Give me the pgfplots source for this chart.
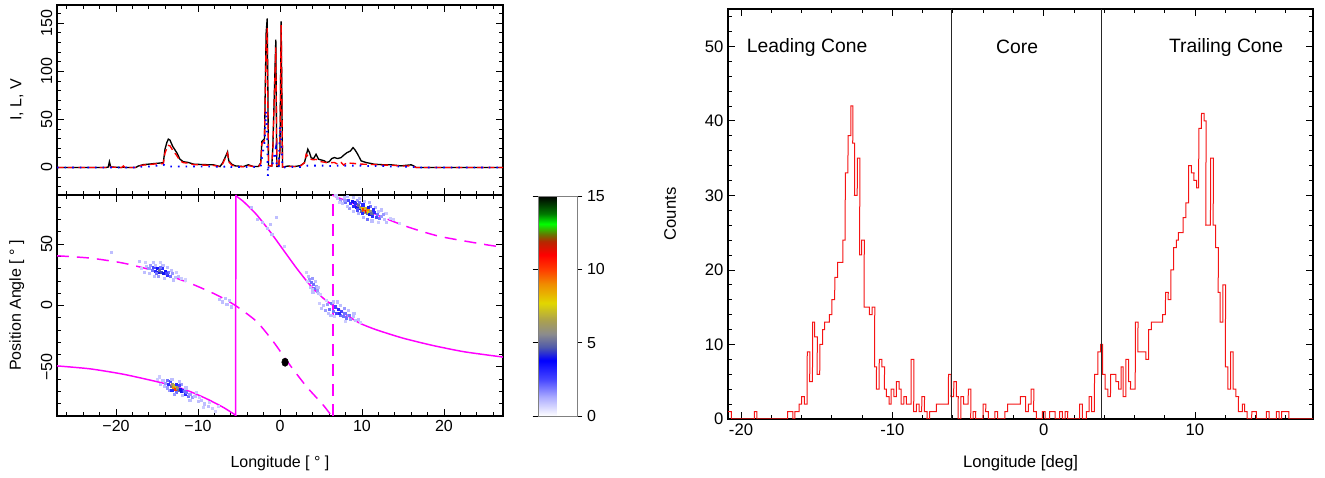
\documentclass[border=0pt]{standalone}
\usepackage{fontspec}
\setmainfont{Liberation Sans}
\usepackage{pgfplots}
\usepackage{pgfplotstable}
\pgfplotsset{compat=1.18}
\definecolor{mag}{RGB}{255,0,255}
\definecolor{hred}{RGB}{245,20,20}
\definecolor{pred}{RGB}{255,0,0}
\definecolor{vblue}{RGB}{0,0,255}

\pgfplotsset{
  colormap={pamap}{rgb255(0cm)=(255,255,255); rgb255(1.3cm)=(170,170,255); rgb255(2.5cm)=(70,70,255); rgb255(3.8cm)=(0,0,255); rgb255(4.7cm)=(80,90,170); rgb255(5.6cm)=(140,140,140); rgb255(6.5cm)=(170,160,80); rgb255(7.7cm)=(225,215,0); rgb255(9cm)=(240,140,0); rgb255(10cm)=(255,60,0); rgb255(11cm)=(255,0,0); rgb255(11.9cm)=(180,40,0); rgb255(12.4cm)=(100,120,0); rgb255(13.1cm)=(0,255,0); rgb255(13.8cm)=(0,120,0); rgb255(15cm)=(0,0,0)},
  leftstyle/.style={
    scale only axis, width=334.5pt, anchor=south west,
    xmin=-27.2, xmax=27.2,
    xtick={-20,-10,0,10,20},
    minor xtick={-26,-24,...,26},
    tick align=inside,
    major tick length=5pt, minor tick length=3pt,
    tick style={black, line width=0.6pt},
    axis line style={line width=0.8pt},
    font=\fontsize{12}{14}\selectfont,
    /pgf/number format/assume math mode=true,
  },
}

\pgfplotstableread{
x I L V
-27.2 0 0 0
-21.2 0 0 0
-20.95 0.5 0.3 0
-20.81 6 1.5 0
-20.65 0.5 0.3 0
-19.3 0 0 0
-19.1 0.5 1.7 0
-18.9 0 0 0
-17.6 0 0 0
-17.28 1.5 1.5 0.5
-16.67 3 2.5 1
-16.0 3.5 3 1
-15.45 4 3.5 1.5
-14.8 4.5 4 2
-14.23 5 4 3
-14.03 19 15 2
-13.8 26 20 1.5
-13.62 29.5 23 1
-13.42 28.5 22.5 1
-13.09 22 18 1
-12.6 15.5 12.5 1
-12.2 8.6 7 1
-11.79 6 5 1
-11.18 5.2 4.5 1
-10.57 3.5 3 1
-9.35 3 2.5 1
-8.13 2.8 2.2 1
-7.31 1 0.8 0.5
-6.99 5 4 0.5
-6.7 10.3 9 1
-6.4 16.2 15 2
-6.25 7 6 1
-5.89 3.4 2.5 0.5
-5.48 1.7 1.2 0.5
-4.47 1 0.8 0.5
-3.86 2.8 2 0.5
-3.25 1 1 0.5
-2.64 1 0.8 0.5
-2.35 5 4 1
-2.21 27 25 10
-1.89 30 28 26
-1.69 140 130 59
-1.56 155 145 30
-1.48 80 60 -9
-1.40 2 2 1
-1.0 1.5 1.5 1
-0.87 22 20 5
-0.51 133 125 20
-0.39 1 1 0
-0.15 1 1 0
0.0 20 18 43
0.14 152 148 30
0.31 0.5 0.5 0
1.0 1.5 1 0.5
1.8 1 1 0.5
2.5 2 1.5 0.5
2.98 5 5 1
3.19 12 13.8 1.5
3.39 19 12 2
3.6 15.5 11 2
3.8 10 8.5 2
4.1 9.3 8 2
4.4 13.8 8.5 2
4.7 8.6 7 2
5.01 7.9 6 2
5.42 6.9 5.5 2
5.62 5.2 5.2 1.5
6.0 6 5.5 1.5
6.31 9.3 5 1.5
6.64 10.3 5.2 1.5
7.04 9.3 3.4 2
7.45 10.3 5.2 2
7.77 12.8 2.5 2
8.18 15.5 5.2 2
8.59 17.2 4.5 2
8.91 20.7 4.5 2
9.15 18.3 4 2
9.48 13.8 4 2
9.89 6.9 3.5 2
10.5 5.2 3.4 1.5
11.51 3.4 3 1.5
12.73 2.8 2.5 1.5
13.54 2.8 2.5 1
14.76 1.7 1.5 1
16.0 2.8 1.7 0.5
16.3 1.7 1 0.5
16.6 0 0 0
27.2 0 0 0
}\profile

\pgfplotstableread{
x y c
-16.3 32 1
-16.0 30 1.5
-15.8 33 1.5
-15.6 29 2
-15.4 31 2.5
-15.2 28 3
-15.0 30 3.5
-14.9 27 4
-14.7 29 5
-14.5 27 4.5
-14.4 30 3
-14.2 26 4
-14.0 28 3.5
-13.8 25 3
-13.6 27 2
-13.4 24 2
-13.1 26 1.5
-12.8 23 1
-12.4 24 1
-15.5 35 1
-14.8 24 1.5
-14.3 33 1
-16.6 27 1
-13.0 21 1
-16.9 30 0.8
-16.4 35 0.8
-15.9 26 1
-15.2 33 1
-14.6 35 0.8
-13.7 31 1
-13.3 29 1
-12.6 27 0.8
-12.0 22 0.8
-11.6 21 0.7
-15.3 24 1
-14.1 22 1
-15.1 26 2
-14.6 31 2
-13.9 26 2.5
-14.3 -61 1
-14.0 -63 1.5
-13.8 -61 2
-13.6 -64 3
-13.4 -62 2.5
-13.3 -66 5
-13.1 -64 6
-13.0 -67 9
-12.9 -65 7
-12.8 -68 10
-12.7 -66 8
-12.5 -67 6
-12.4 -69 5
-12.2 -68 4
-12.0 -70 4
-11.8 -69 3
-11.6 -72 3
-11.4 -71 2
-11.2 -74 2
-11.0 -72 1.5
-10.7 -75 1.5
-10.4 -74 1
-10.0 -78 1
-9.6 -77 1
-9.2 -80 1
-8.8 -82 1
-8.3 -84 0.8
-13.5 -69 1.5
-12.6 -71 2
-12.1 -64 1.5
-11.5 -67 1
-14.6 -64 1
-15.0 -60 0.8
-14.7 -58 0.8
-14.1 -66 1
-13.2 -60 1
-12.3 -62 1
-11.9 -73 1
-11.0 -77 1
-10.2 -71 0.8
-9.8 -75 0.8
-9.4 -83 0.8
-8.6 -79 0.8
-7.9 -86 0.7
-7.5 -82 0.7
-12.9 -72 1.5
-13.7 -67 1.5
-12.3 -65 2.5
-11.7 -70 2
-13.2 -69 3
-12.6 -64 3
7.0 87 1
7.4 86 1.5
7.8 88 1
8.0 84 2
8.3 86 2.5
8.6 83 3
8.8 85 3.5
9.0 81 3
9.1 84 4
9.3 80 4
9.5 82 5
9.6 79 4
9.8 80 6
9.9 77 5
10.0 79 8
10.1 82 3
10.2 78 10
10.3 76 6
10.4 79 7
10.5 77 11
10.6 75 5
10.7 78 9
10.8 76 8
10.9 74 4
11.0 77 6
11.2 75 5
11.3 73 3
11.5 76 3
11.7 72 2.5
11.9 74 2
12.1 71 2
12.4 73 1.5
12.7 70 1
13.0 68 1
9.4 86 1.5
8.5 79 1.5
11.0 81 2
10.6 70 2
12.0 77 1
7.6 83 1
6.8 90 0.8
7.2 84 0.8
8.2 89 1
8.9 88 1
9.7 87 1
10.3 85 1
10.9 84 1.2
11.6 80 1.2
12.3 78 1
12.9 75 0.8
13.4 71 0.8
12.0 68 0.8
11.2 69 1
10.2 72 1.2
9.5 75 1.2
8.9 77 1
8.2 81 1
7.9 86 1.5
9.2 83 3
9.7 84 2
10.8 80 4
11.4 78 3
10.0 75 3
9.4 78 2.5
12.6 74 1.5
13.8 70 0.8
14.5 67 0.7
3.4 24 1
3.6 21 1.5
3.8 19 2
3.9 22 1.5
4.1 17 2
4.2 14 2
4.4 16 1.5
4.5 12 1.5
4.7 10 1
3.7 15 1
4.0 11 1
3.2 27 0.8
3.3 20 0.8
4.3 20 1
4.6 15 1
4.9 9 0.8
3.9 13 1
5.0 -2 1
5.3 0 1
5.5 -4 1.5
5.8 1 1.5
6.0 -3 2
6.3 2 2
6.5 -5 2
6.7 -1 2.5
6.9 -6 2.5
7.1 -3 3
7.3 -8 2
7.5 -5 2.5
7.7 -9 2
7.9 -6 2
8.1 -10 2
8.3 -8 1.5
8.6 -11 1.5
8.9 -9 1
9.2 -12 1
9.5 -11 1
6.2 -8 1
7.0 3 1
4.8 2 0.8
5.6 4 0.8
6.5 3 1
7.4 0 1
8.3 -4 1
9.0 -6 1
9.8 -14 0.8
8.0 -13 0.8
6.6 -9 0.8
5.9 -6 1
7.8 -2 1.5
7.2 -6 3
8.5 -8 2
-7.4 5 1
-7.0 3 1
-6.7 6 1
-6.5 1 1
-6.2 4 1
-5.9 -1 1
-2.8 70 1
-2.2 68 1
-1.6 63 1
-1.0 58 1
-0.5 72 1
-3.5 80 1
-1.2 66 1
0.5 48 0.8
-20.6 43 1
-17.2 36 1
}\scat

\pgfplotstableread{
x y
-20.86 1
-20.64 0
-19.12 1
-18.95 0
-16.92 1
-16.57 0
-16.44 1
-16.17 2
-16.00 3
-15.82 2
-15.64 9
-15.47 5
-15.29 13
-15.16 11
-14.98 6
-14.81 10
-14.63 12
-14.50 13
-14.19 14
-14.02 16
-13.84 19
-13.66 21
-13.31 24
-13.17 33
-13.00 38
-12.82 42
-12.69 37
-12.56 30
-12.38 35
-12.21 22
-12.07 24
-11.90 15
-11.54 14
-11.37 15
-11.19 7
-11.06 4
-10.88 8
-10.71 7
-10.53 4
-10.40 3
-10.22 2
-10.09 4
-9.91 3
-9.74 5
-9.56 4
-9.43 2
-9.25 3
-9.08 2
-8.77 8
-8.59 1
-8.41 2
-8.24 1
-8.06 3
-7.88 1
-7.71 0
-7.53 1
-7.09 2
-6.30 6
-6.13 3
-5.95 5
-5.78 3
-5.65 0
-5.47 3
-5.30 2
-4.99 4
-4.82 0
-4.67 1
-4.49 0
-4.01 2
-3.83 1
-3.66 0
-3.22 1
-3.04 0
-2.56 1
-2.38 2
-1.54 3
-1.19 1
-1.02 2
-0.84 4
-0.66 1
-0.48 0
-0.09 1
0.09 0
0.40 1
0.75 0
1.06 1
1.23 0
1.41 1
1.59 0
2.38 2
2.56 0
2.82 1
3.00 3
3.17 1
3.35 6
3.57 9
3.74 10
3.88 6
4.05 4
4.23 3
4.41 6
4.76 5
4.94 4
5.11 7
5.24 3
5.42 8
5.60 5
5.73 4
6.04 13
6.21 9
6.74 8
6.92 12
7.10 13
7.84 14
8.02 17
8.20 16
8.37 20
8.55 23
8.72 24
8.86 25
9.17 27
9.34 29
9.52 34
9.69 33
9.87 32
10.05 31
10.18 39
10.35 41
10.53 40
10.66 26
10.97 35
11.15 26
11.32 23
11.50 17
11.63 13
11.81 18
11.99 7
12.16 4
12.34 9
12.51 4
12.69 3
12.87 1
13.13 2
13.27 1
13.44 0
13.75 1
14.06 0
14.72 1
14.90 0
15.38 1
15.56 0
15.73 1
16.21 0
17.80 0
}\hist

\begin{document}
\begin{tikzpicture}
\useasboundingbox (0,0) rectangle (993.75pt,358.5pt);

% ---------- top-left: profile ----------
\begin{axis}[leftstyle,
  at={(42.75pt,212.25pt)}, height=142.5pt,
  ymin=-28.6, ymax=169,
  xticklabels={},
  ytick={0,50,100,150},
  minor ytick={-20,-10,...,160},
  yticklabel style={rotate=90, anchor=south},
  ylabel={I, L, V},
  ylabel style={at={(axis description cs:-0.09,0.5)}, anchor=center},
]
\addplot[black, line width=1pt] table[x=x,y=I] \profile;
\addplot[pred, line width=1pt, dash pattern=on 5pt off 3pt] table[x=x,y=L] \profile;
\addplot[vblue, line width=1.4pt, dash pattern=on 1.2pt off 4.5pt] table[x=x,y=V] \profile;
\end{axis}

% ---------- bottom-left: position angle ----------
\begin{axis}[leftstyle,
  at={(42.75pt,46.5pt)}, height=165.75pt,
  ymin=-90, ymax=90,
  xticklabels={−20,−10,0,10,20},
  ytick={-50,0,50}, yticklabels={−50,0,50},
  minor ytick={-90,-80,...,90},
  yticklabel style={rotate=90, anchor=south},
  xlabel={Longitude [ ° ]},
  ylabel={Position Angle [ ° ]},
  xlabel style={at={(axis description cs:0.5,-0.215)}, anchor=center},
  ylabel style={at={(axis description cs:-0.09,0.5)}, anchor=center},
  colormap name=pamap,
  point meta min=0, point meta max=15,
  colorbar,
  colorbar shift/.style={xshift=0pt},
  colorbar style={
    at={(parent axis.south east)}, anchor=south west, xshift=26.25pt,
    width=29.25pt, height=165pt, scale only axis,
    ytick={0,5,10,15}, ytick pos=both, yticklabel pos=right,
    tick align=outside, major tick length=4pt,
    tick style={black, line width=0.6pt},
    axis line style={draw=gray, line width=0.4pt},
    font=\fontsize{12}{14}\selectfont,
    /pgf/number format/assume math mode=true,
  },
]
\addplot[scatter, only marks, mark=square*, mark size=0.8pt,
  scatter/use mapped color={draw=mapped color, fill=mapped color},
  point meta=explicit] table[x=x,y=y,meta=c] \scat;
% solid RVM
\addplot[mag, line width=1.1pt, smooth, tension=0.4] coordinates {
(-27.2,-49.2) (-23.16,-51.6) (-19.1,-56) (-15.04,-62) (-13,-65.5) (-11,-70) (-8.94,-76) (-6.91,-83) (-5.49,-89) (-5.42,-90)};
\addplot[mag, line width=1.1pt] coordinates {(-5.42,-90) (-5.38,90)};
\addplot[mag, line width=1.1pt, smooth, tension=0.4] coordinates {
(-5.38,90) (-5.29,88.9) (-4.48,84.8) (-2.86,74) (-1.23,60.3) (0.39,45.4) (2.02,30.4) (3.64,16.8) (5.26,6) (6.48,0) (8.1,-7.6) (9.73,-14.4) (11.76,-19.8) (15,-26.6) (18.66,-32.6) (22.3,-37.5) (25.15,-40.2) (27.2,-42)};
% dashed RVM
\addplot[mag, line width=1.1pt, dash pattern=on 9pt off 6pt, smooth, tension=0.4] coordinates {
(-27.2,40.5) (-23.16,38.6) (-19.1,34.5) (-15.04,27.7) (-11,18.2) (-7.75,8.7) (-5.44,0) (-2.86,-13) (-0.83,-29.3) (1.2,-48.4) (3.23,-66) (5.26,-81) (6.3,-90)};
\addplot[mag, line width=1.1pt, dash pattern=on 9pt off 6pt] coordinates {(6.48,-90) (6.48,90)};
\addplot[mag, line width=1.1pt, dash pattern=on 9pt off 6pt, smooth, tension=0.4] coordinates {
(6.55,90) (6.68,88.9) (9.32,82) (11.76,74) (15.41,64.4) (19.47,56.3) (25.15,49.5) (27.2,47.5)};
\addplot[only marks, mark=*, mark size=3.1pt, mark options={xscale=0.8, fill=black}, black] coordinates {(0.62,-46.2)};
\end{axis}

% ---------- right: histogram ----------
\begin{axis}[
  at={(546pt,44.25pt)}, anchor=south west, scale only axis,
  width=438.75pt, height=307.5pt,
  xmin=-20.86, xmax=17.8, ymin=0, ymax=55,
  xtick={-20,-10,0,10}, xticklabels={-20,-10,0,10},
  minor xtick={-20,-18,...,16},
  ytick={0,10,...,50}, minor ytick={0,2,...,54},
  tick align=inside,
  major tick length=5pt, minor tick length=3pt,
  tick style={black, line width=0.6pt},
  axis line style={line width=0.8pt},
  font=\fontsize{12.5}{15}\selectfont,
  /pgf/number format/assume math mode=true,
  xlabel={Longitude [deg]}, ylabel={Counts},
  xlabel style={at={(axis description cs:0.5,-0.107)}, anchor=center},
  ylabel style={at={(axis description cs:-0.099,0.5)}, anchor=center},
]
\addplot[const plot mark left, draw=hred, line width=0.75pt, xslant=0.004] table[x=x,y=y] \hist;
\addplot[black!85, line width=0.7pt] coordinates {(-6.08,0) (-6.08,55)};
\addplot[black!85, line width=0.7pt] coordinates {(3.83,0) (3.83,55)};
\node[font=\fontsize{14.5}{17}\selectfont] at (axis cs:-15.63,49.9) {Leading Cone};
\node[font=\fontsize{14.5}{17}\selectfont] at (axis cs:-1.75,49.9) {Core};
\node[font=\fontsize{14.5}{17}\selectfont] at (axis cs:12.06,49.9) {Trailing Cone};
\end{axis}
\end{tikzpicture}
\end{document}
